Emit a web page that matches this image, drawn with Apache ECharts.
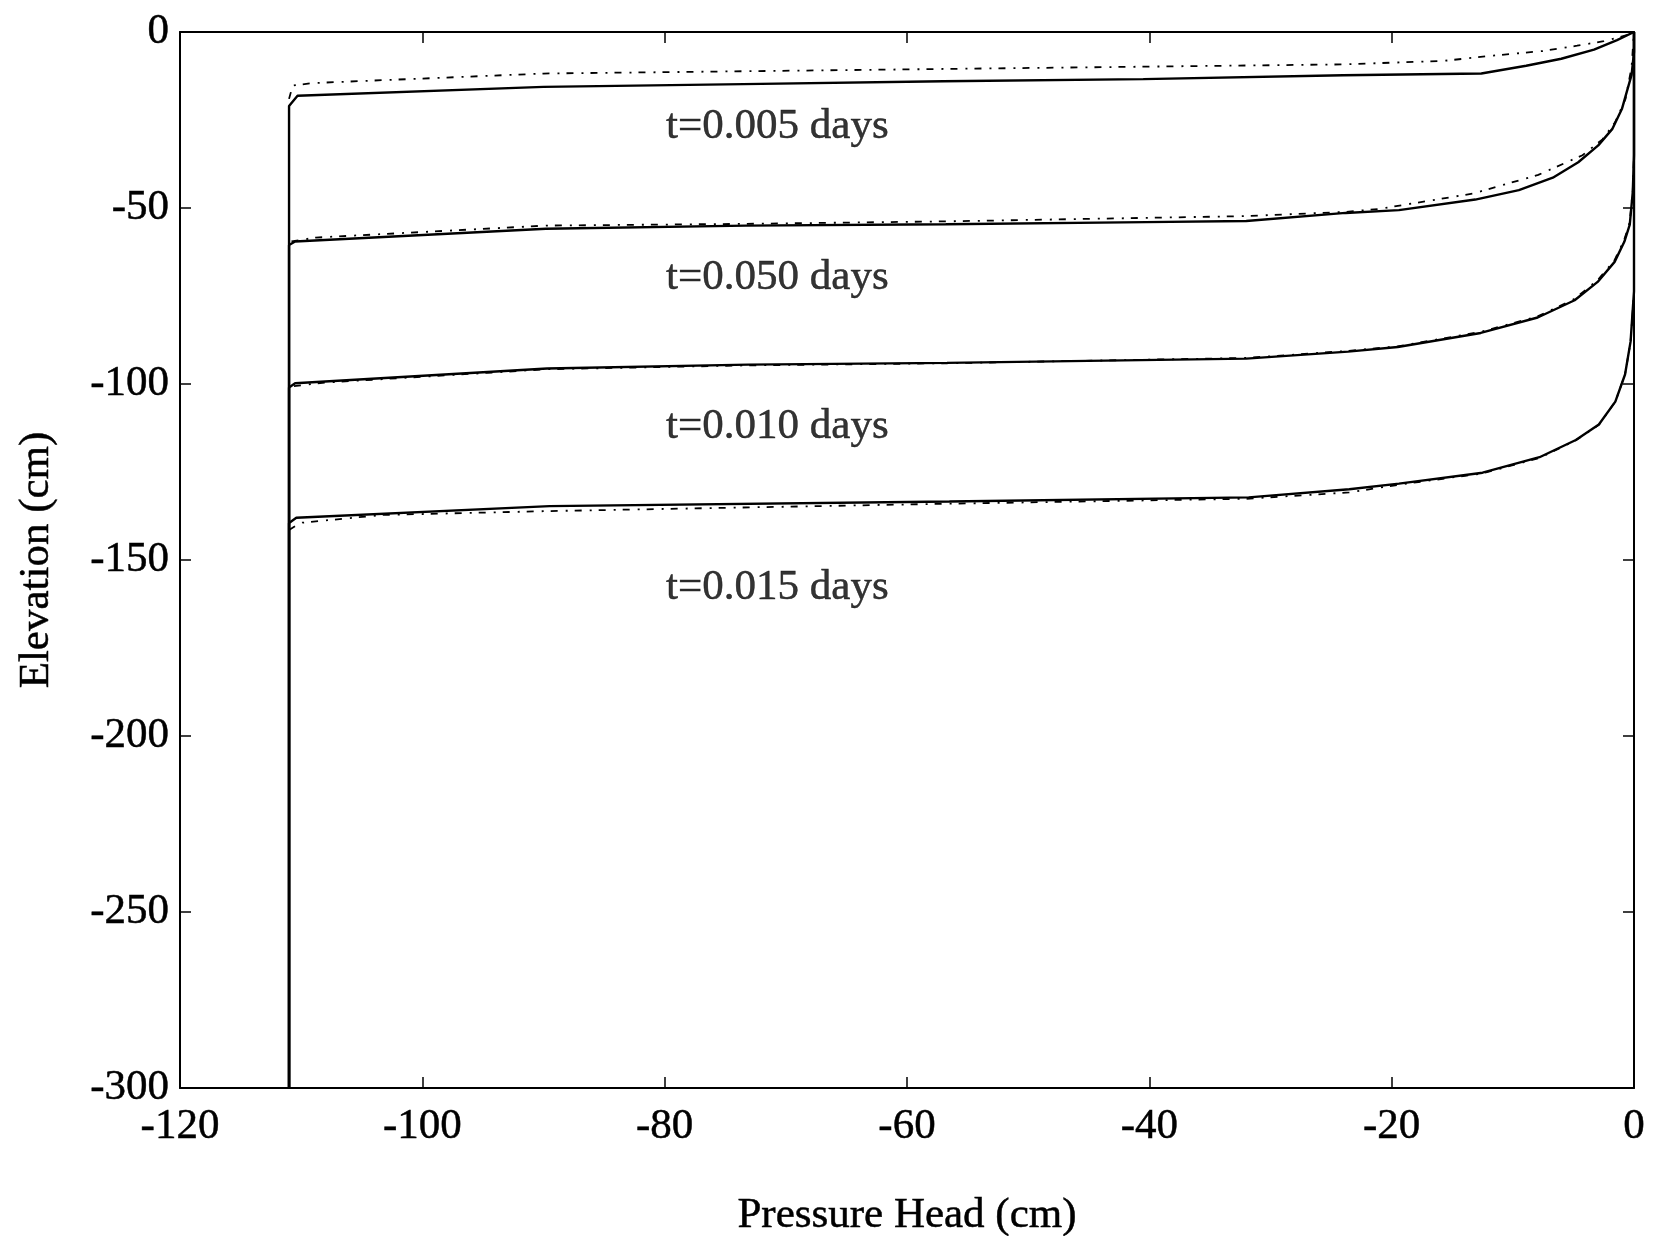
<!DOCTYPE html>
<html>
<head>
<meta charset="utf-8">
<title>Pressure head profiles</title>
<script src="https://cdn.jsdelivr.net/npm/echarts@6/dist/echarts.min.js"></script>
<style>
  html, body { margin: 0; padding: 0; background: #fff; }
  #chart { width: 1670px; height: 1236px; }
</style>
</head>
<body>
<div id="chart"></div>
<script>
// axis ticks
const xTicks = [-120, -100, -80, -60, -40, -20, 0];
const yTicks = [0, -50, -100, -150, -200, -250, -300];

// [pressure head (cm), elevation (cm)]
const solid005 = [[-111, -300], [-111, -21], [-110.3, -18.1], [-90, -15.6], [-73.5, -14.8], [-57, -14.0], [-40.5, -13.4], [-24, -12.3], [-12.6, -11.8], [-8.9, -9.6], [-6.0, -7.6], [-3.3, -5.0], [-1.4, -2.3], [0, 0]];
const dash005 = [[-111, -19], [-110.7, -15.2], [-109, -14.5], [-90, -11.8], [-57, -10.5], [-24, -9.2], [-15.7, -8.2], [-11.6, -6.7], [-7.5, -5.4], [-4.7, -3.9], [-2.5, -2.6], [-0.6, -0.9], [0, 0]];

const solid050 = [[-111, -300], [-111, -60.5], [-110.5, -59.5], [-89.8, -55.9], [-73.3, -55.0], [-56.8, -54.6], [-40.3, -54.0], [-32, -53.7], [-23.8, -51.4], [-19.4, -50.6], [-13.1, -47.6], [-9.5, -44.9], [-6.7, -41.4], [-4.6, -37.0], [-2.95, -32.2], [-1.8, -27.6], [-1.0, -21.9], [-0.2, -12.2], [0, -5.7], [0, 0]];
const dash050 = [[-110.8, -59.5], [-108.8, -58.4], [-89.8, -55.0], [-73.3, -54.5], [-56.8, -53.8], [-32, -52.3], [-23.8, -51.1], [-21.1, -50.3], [-13.3, -45.9], [-7.9, -40.6], [-4.25, -35.0], [-2.6, -30.5], [-1.55, -25.6], [-0.7, -19.0], [-0.2, -10], [0, 0]];

const solid010 = [[-111, -300], [-111, -101], [-110.5, -99.8], [-89.7, -95.6], [-73.1, -94.5], [-56.7, -94.0], [-32, -92.8], [-23.6, -90.8], [-19.5, -89.5], [-12.65, -85.5], [-7.95, -81.1], [-4.9, -76.2], [-3.0, -71.0], [-1.6, -65.3], [-0.8, -59.6], [-0.35, -54.7], [-0.1, -45.4], [0, -35], [0, 0]];
const dash010 = [[-110.6, -100.6], [-108, -99.6], [-89.7, -95.8], [-73.1, -94.7], [-56.7, -94.1], [-32, -92.6], [-23.6, -90.6], [-19.5, -89.3], [-12.65, -85.2], [-7.95, -80.8], [-4.9, -75.8], [-3.0, -70.5], [-1.6, -64.8], [-0.8, -59], [-0.35, -54], [-0.1, -45], [0, -35], [0, 0]];

const solid015 = [[-111, -300], [-111, -139.5], [-110.4, -138.0], [-89.5, -134.7], [-56.5, -133.4], [-31.8, -132.2], [-23.5, -129.9], [-19.4, -128.3], [-12.5, -125.2], [-7.8, -120.8], [-4.8, -115.9], [-2.9, -111.5], [-1.54, -105.0], [-0.74, -97.3], [-0.28, -87.9], [0, -73.7], [0, 0]];
const dash015 = [[-111, -141.5], [-110.4, -140.2], [-109.9, -139.4], [-103.3, -137.2], [-89.5, -136.1], [-56.5, -134.0], [-32, -132.6], [-23.5, -130.8], [-19.4, -128.6], [-12.5, -125.4], [-7.8, -121], [-4.8, -116], [-2.9, -111.6], [-1.54, -105], [-0.74, -97.3], [-0.28, -88], [0, -74], [0, 0]];

// curve labels
const timeLabels = ['t=0.005 days', 't=0.050 days', 't=0.010 days', 't=0.015 days'];
const labelX = [-70.7, -70.7, -70.7, -70.7];
const labelY = [-27.0, -69.7, -112.0, -158.0];

const serif = 'Liberation Serif, Times New Roman, serif';
const ink = { color: '#000', fontFamily: serif, fontSize: 43, textBorderColor: '#000', textBorderWidth: 0.5 };

const frameAxis = (pos, showLabel, margin) => ({
    type: 'value',
    position: pos,
    axisLine: { show: true, onZero: false, lineStyle: { color: '#000', width: 2 } },
    axisTick: { show: true, inside: true, length: 11, lineStyle: { color: '#000', width: 1.5 } },
    axisLabel: Object.assign({ show: showLabel, margin: margin }, ink),
    splitLine: { show: false }
});

const xBase = { min: xTicks[0], max: xTicks[xTicks.length - 1], interval: 20 };
const yBase = { min: yTicks[yTicks.length - 1], max: yTicks[0], interval: 50 };

const solidLine = (data) => ({
    type: 'line', data: data, showSymbol: false, symbol: 'none',
    lineStyle: { color: '#000', width: 2.4 }, z: 3
});
const dashLine = (data) => ({
    type: 'line', data: data, showSymbol: false, symbol: 'none',
    lineStyle: { color: '#000', width: 1.8, type: [7, 8, 2, 7] }, z: 2
});

const chart = echarts.init(document.getElementById('chart'));
chart.setOption({
    animation: false,
    backgroundColor: '#fff',
    grid: { left: 180, right: 36, top: 32, bottom: 148, outerBoundsMode: 'none', containLabel: false },
    xAxis: [
        Object.assign(frameAxis('bottom', true, 17), xBase, {
            name: 'Pressure Head (cm)',
            nameLocation: 'middle',
            nameGap: 106,
            nameTextStyle: ink
        }),
        Object.assign(frameAxis('top', false, 10), xBase)
    ],
    yAxis: [
        Object.assign(frameAxis('left', true, 11), yBase, {
            name: 'Elevation (cm)',
            nameLocation: 'middle',
            nameGap: 122,
            nameTextStyle: ink
        }),
        Object.assign(frameAxis('right', false, 10), yBase)
    ],
    series: [
        solidLine(solid005), dashLine(dash005),
        solidLine(solid050), dashLine(dash050),
        solidLine(solid010), dashLine(dash010),
        solidLine(solid015), dashLine(dash015),
        {
            type: 'scatter',
            symbolSize: 0,
            silent: true,
            data: timeLabels.map((t, i) => [labelX[i], labelY[i], t]),
            label: Object.assign({
                show: true,
                position: 'inside',
                formatter: (p) => p.data[2]
            }, ink),
            z: 5
        }
    ]
});
</script>
</body>
</html>
